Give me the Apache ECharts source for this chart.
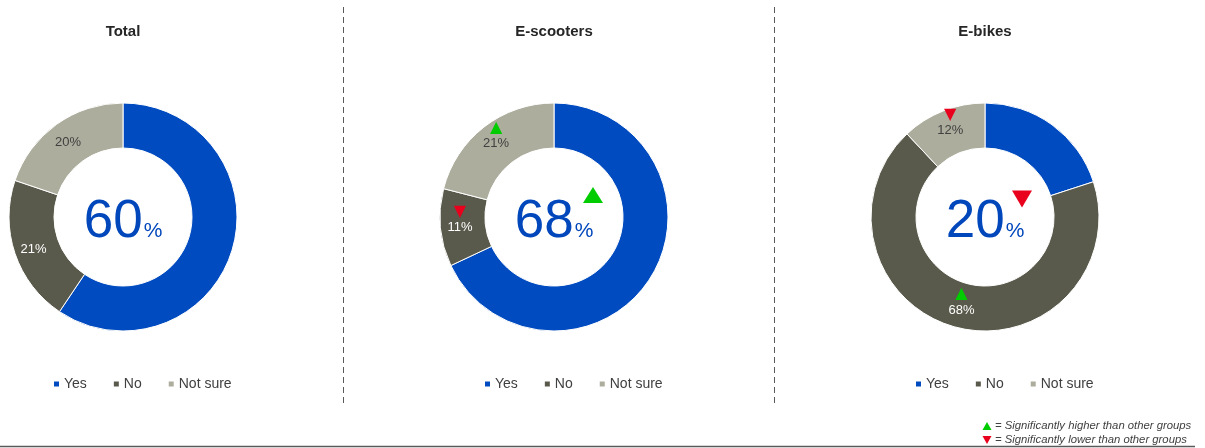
<!DOCTYPE html>
<html>
<head>
<meta charset="utf-8">
<script src="https://cdn.jsdelivr.net/npm/echarts@6/dist/echarts.min.js"></script>
<style>
  html, body { margin: 0; padding: 0; background: #fff; }
  #chart { width: 1205px; height: 448px; }
</style>
</head>
<body>
<div id="chart"></div>
<script>
// Answer categories shared by all three donuts
const categories = ['Yes', 'No', 'Not sure'];
const groups = ['Total', 'E-scooters', 'E-bikes'];

// Share of respondents (%) per group, in category order
const totalValues = [60, 21, 20];
const scooterValues = [68, 11, 21];
const bikeValues = [20, 68, 12];

// Significance vs. other groups: 1 = higher, -1 = lower, 0 = none
const totalFlags = [0, 0, 0];
const scooterFlags = [1, -1, 1];
const bikeFlags = [-1, 1, -1];

const noteHigher = '= Significantly higher than other groups';
const noteLower = '= Significantly lower than other groups';

const valuesByGroup = [totalValues, scooterValues, bikeValues];
const flagsByGroup = [totalFlags, scooterFlags, bikeFlags];

const COLORS = ['#004bbf', '#5a5a4c', '#adad9e'];
const LABEL_COLORS = ['#ffffff', '#ffffff', '#404040'];
const BLUE_TEXT = '#0047bb';
const UP = '#00cc00';
const DOWN = '#e8001c';
const FONT = '"Liberation Sans", Arial, Helvetica, sans-serif';

const centersX = [123, 554, 985];
const centerY = 217;
const radius = [69, 114];

function sliceLabel(value, flag) {
  if (flag > 0) return '{up|▲}\n{v|' + value + '%}';
  if (flag < 0) return '{down|▼}\n{v|' + value + '%}';
  return '{v|' + value + '%}';
}

const series = groups.map((g, gi) => ({
  type: 'pie',
  name: g,
  center: [centersX[gi], centerY],
  radius: radius,
  startAngle: 90,
  clockwise: true,
  silent: true,
  avoidLabelOverlap: false,
  itemStyle: { borderColor: '#ffffff', borderWidth: 1 },
  label: {
    show: true,
    position: 'inside',
    fontFamily: FONT,
    fontSize: 13,
    rich: {
      v: { fontSize: 13, fontFamily: FONT, lineHeight: 15 },
      up: { fontSize: 16, color: UP, fontFamily: 'DejaVu Sans', lineHeight: 17 },
      down: { fontSize: 16, color: DOWN, fontFamily: 'DejaVu Sans', lineHeight: 17 }
    }
  },
  labelLine: { show: false },
  data: categories.map((c, ci) => {
    const v = valuesByGroup[gi][ci];
    const f = flagsByGroup[gi][ci];
    return {
      name: c,
      value: v,
      itemStyle: { color: COLORS[ci] },
      label: {
        show: ci !== 0,
        color: LABEL_COLORS[ci],
        formatter: sliceLabel(v, f),
        padding: f !== 0 ? [0, 0, 14, 0] : [4, 0, 0, 0]
      }
    };
  })
}));

const titles = [];
groups.forEach((g, gi) => {
  titles.push({
    text: g,
    left: centersX[gi] - 5,
    top: 19,
    textAlign: 'center',
    textStyle: { fontFamily: FONT, fontSize: 15, fontWeight: 'bold', color: '#262626' }
  });
  titles.push({
    text: '{n|' + valuesByGroup[gi][0] + '}{p|%}',
    left: centersX[gi] - 5,
    top: centerY - 35,
    textAlign: 'center',
    textStyle: {
      fontWeight: 'normal',
      rich: {
        n: { fontFamily: FONT, fontSize: 53, fontWeight: 'normal', color: BLUE_TEXT, lineHeight: 62, verticalAlign: 'bottom' },
        p: { fontFamily: FONT, fontSize: 21, fontWeight: 'normal', color: BLUE_TEXT, verticalAlign: 'bottom', lineHeight: 30, padding: [0, 0, 7, 1] }
      }
    }
  });
});

const legends = groups.map((g, gi) => ({
  data: categories,
  left: centersX[gi] - 76,
  top: 372,
  orient: 'horizontal',
  icon: 'rect',
  itemWidth: 7,
  itemHeight: 7,
  itemGap: 25,
  selectedMode: false,
  textStyle: { fontFamily: FONT, fontSize: 14, color: '#404040', padding: [0, 0, 0, -1] }
}));

// Decorations: separators, bottom rule, center markers and the key
const graphics = [];
[343, 774].forEach(x => {
  graphics.push({
    type: 'line', silent: true,
    shape: { x1: x + 0.5, y1: 7, x2: x + 0.5, y2: 404 },
    style: { stroke: '#595959', lineWidth: 1, lineDash: [6, 4] }
  });
});
graphics.push({
  type: 'line', silent: true,
  shape: { x1: 0, y1: 446.5, x2: 1195, y2: 446.5 },
  style: { stroke: '#595959', lineWidth: 1.5 }
});

function triangle(cx, cy, w, h, up, color) {
  const pts = up
    ? [[cx - w / 2, cy + h / 2], [cx + w / 2, cy + h / 2], [cx, cy - h / 2]]
    : [[cx - w / 2, cy - h / 2], [cx + w / 2, cy - h / 2], [cx, cy + h / 2]];
  return { type: 'polygon', silent: true, shape: { points: pts }, style: { fill: color } };
}

groups.forEach((g, gi) => {
  const f = flagsByGroup[gi][0];
  if (f > 0) graphics.push(triangle(centersX[gi] + 39, centerY - 22, 20, 16, true, UP));
  if (f < 0) graphics.push(triangle(centersX[gi] + 37, centerY - 18, 20, 17, false, DOWN));
});

graphics.push(triangle(987, 426, 9, 8, true, UP));
graphics.push(triangle(987, 440, 9, 8, false, DOWN));
graphics.push({
  type: 'text', silent: true, x: 995, y: 426,
  style: { text: noteHigher, font: 'italic 11.3px ' + FONT, fill: '#404040', verticalAlign: 'middle' }
});
graphics.push({
  type: 'text', silent: true, x: 995, y: 440,
  style: { text: noteLower, font: 'italic 11.3px ' + FONT, fill: '#404040', verticalAlign: 'middle' }
});

const chart = echarts.init(document.getElementById('chart'), null, { renderer: 'canvas' });
chart.setOption({
  backgroundColor: '#ffffff',
  animation: false,
  title: titles,
  legend: legends,
  series: series,
  graphic: graphics
});
</script>
</body>
</html>
